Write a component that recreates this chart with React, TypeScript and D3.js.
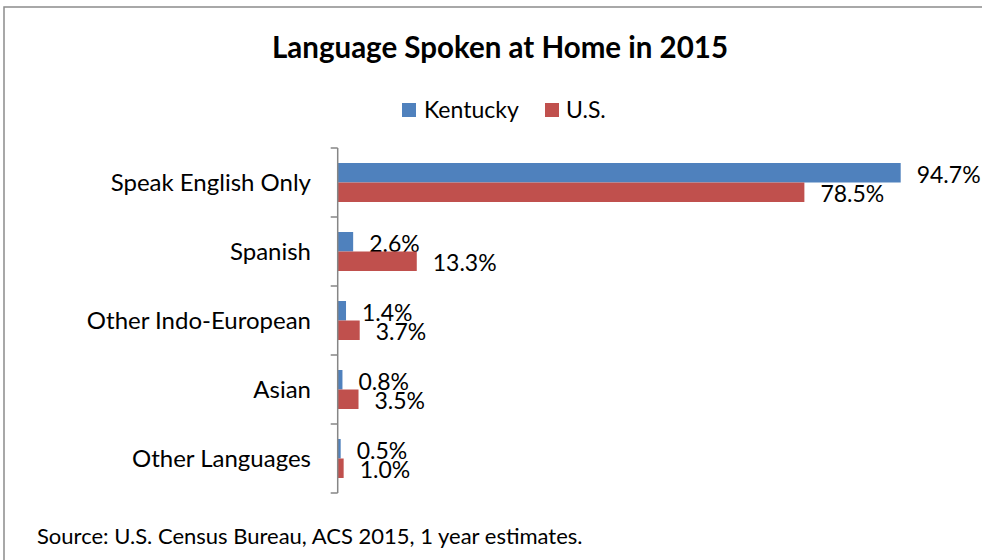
import React from "react";
import * as d3 from "d3";

const categories = ["Speak English Only", "Spanish", "Other Indo-European", "Asian", "Other Languages"];
const seriesNames = ["Kentucky", "U.S."];
const kentucky = [94.7, 2.6, 1.4, 0.8, 0.5];
const us = [78.5, 13.3, 3.7, 3.5, 1.0];
const colors = ["#4F81BD", "#C0504D"];
const title = "Language Spoken at Home in 2015";
const source = "Source: U.S. Census Bureau, ACS 2015, 1 year estimates.";

const W = 982;
const H = 560;
const FONT = "Lato, 'Open Sans', sans-serif";

export default function App() {
  const x = d3.scaleLinear().domain([0, 100]).range([337.7, 932.2]);
  const y = d3.scaleBand<string>().domain(categories).range([148, 493]).padding(0);
  const inner = d3
    .scaleBand<string>()
    .domain(seriesNames)
    .range([0, y.bandwidth()])
    .paddingInner(0)
    .paddingOuter(0.77);
  const series = [kentucky, us];
  const ticks = [...categories.map((c) => y(c) as number), 493];

  return (
    <svg width={W} height={H} style={{ position: "absolute", left: 0, top: 0, background: "#fff" }} fontFamily={FONT}>
      <rect x={0} y={0} width={W} height={H} fill="#fff" />
      <rect x={4} y={7} width={W + 20} height={H + 20} fill="none" stroke="#8c8c8c" strokeWidth={1.5} />
      <text x={500} y={58} textAnchor="middle" fontSize={29.5} fontWeight="bold" fill="#000">
        {title}
      </text>
      {/* legend */}
      <g>
        <rect x={402} y={103} width={14} height={14} fill={colors[0]} />
        <text x={424} y={118} fontSize={23} fill="#000">{seriesNames[0]}</text>
        <rect x={545} y={103} width={14} height={14} fill={colors[1]} />
        <text x={566} y={118} fontSize={23} fill="#000">{seriesNames[1]}</text>
      </g>
      {/* bars */}
      {categories.map((c, i) => (
        <g key={c}>
          {series.map((vals, s) => {
            const by = (y(c) as number) + (inner(seriesNames[s]) as number);
            const bh = inner.bandwidth();
            const xe = x(vals[i]);
            return (
              <g key={s}>
                <rect x={x(0)} y={by} width={xe - x(0)} height={bh} fill={colors[s]} />
                <text x={xe + 16} y={by + bh / 2 + 2} dy="0.35em" fontSize={23} fill="#000">
                  {vals[i].toFixed(1) + "%"}
                </text>
              </g>
            );
          })}
          <text x={311} y={(y(c) as number) + y.bandwidth() / 2 + 8.5} textAnchor="end" fontSize={24} fill="#000">
            {c}
          </text>
        </g>
      ))}
      {/* axis */}
      <line x1={x(0)} x2={x(0)} y1={148} y2={493} stroke="#868686" strokeWidth={1.5} />
      {ticks.map((t, i) => (
        <line key={i} x1={x(0) - 7} x2={x(0)} y1={t} y2={t} stroke="#868686" strokeWidth={1.5} />
      ))}
      <text x={37} y={544} fontSize={22} fill="#000">
        {source}
      </text>
    </svg>
  );
}
